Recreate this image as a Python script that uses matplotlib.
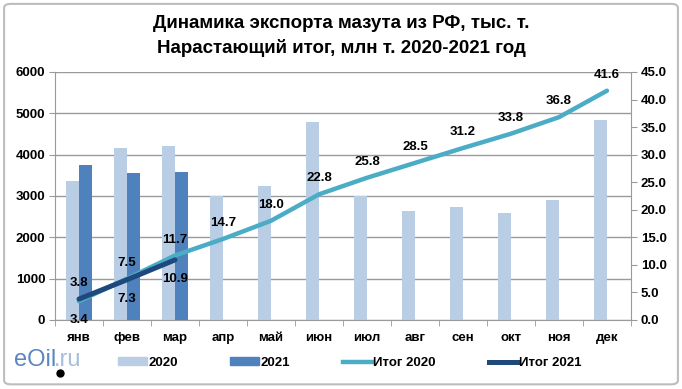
import numpy as np
import matplotlib.pyplot as plt
from matplotlib.patches import Patch, FancyBboxPatch
from matplotlib.lines import Line2D

plt.rcParams['font.family'] = ['Liberation Sans', 'DejaVu Sans']
plt.rcParams['font.weight'] = 'bold'

# ---- data -------------------------------------------------------------
months = ["янв", "фев", "мар", "апр", "май", "июн",
          "июл", "авг", "сен", "окт", "ноя", "дек"]
exp_2020 = [3360, 4160, 4210, 3000, 3250, 4800,
            3000, 2640, 2740, 2600, 2910, 4850]
exp_2021 = [3750, 3550, 3580]
cum_2020 = [3.4, 7.5, 11.7, 14.7, 18.0, 22.8,
            25.8, 28.5, 31.2, 33.8, 36.8, 41.6]
cum_2021 = [3.8, 7.3, 10.9]

C = {
    "b2020": "#B9CDE5",
    "b2021": "#4F81BD",
    "l2020": "#4BACC6",
    "l2021": "#1F497D",
    "grid": "#9A9A9A",
}
FS = 9.5

fig = plt.figure(figsize=(6.82, 3.89), dpi=100)
fig.patches.append(FancyBboxPatch((0.006, 0.012), 0.988, 0.978,
                                  boxstyle="round,pad=0,rounding_size=0.01",
                                  transform=fig.transFigure, fill=False,
                                  edgecolor="#BDBDBD", linewidth=1.5))

ax = fig.add_axes([0.0806, 0.1774, 0.8446, 0.6376])
x = np.arange(len(months))
w = 0.28

ax.bar(x - w / 2, exp_2020, width=w, color=C["b2020"], zorder=2)
ax.bar(x[:len(exp_2021)] + w / 2, exp_2021, width=w, color=C["b2021"], zorder=2)

ax.set_xlim(-0.5, 11.5)
ax.set_ylim(0, 6000)
ax.set_yticks(np.arange(0, 6001, 1000))
ax.yaxis.grid(True, color=C["grid"], linewidth=1)
ax.set_axisbelow(True)
ax.set_xticks(x)
ax.set_xticklabels(months)
ax.set_xticks(np.arange(-0.5, 12, 1), minor=True)
ax.tick_params(axis="x", which="major", length=0, pad=9, labelsize=FS)
ax.tick_params(axis="x", which="minor", length=4, color=C["grid"])
ax.tick_params(axis="y", length=4, color=C["grid"], labelsize=FS, pad=3)
for side in ("top", "right"):
    ax.spines[side].set_visible(False)
for side in ("left", "bottom"):
    ax.spines[side].set_color(C["grid"])

ax2 = ax.twinx()
ax2.plot(x, cum_2020, color=C["l2020"], linewidth=3.2,
         solid_capstyle="round", zorder=3)
ax2.plot(x[:len(cum_2021)], cum_2021, color=C["l2021"], linewidth=3.6,
         solid_capstyle="round", zorder=4)
ax2.set_ylim(0, 45)
ax2.set_yticks(np.arange(0, 46, 5))
ax2.set_yticklabels([f"{v:.1f}" for v in np.arange(0, 46, 5)])
ax2.tick_params(axis="y", length=4, color=C["grid"], labelsize=FS, pad=3)
for side in ("top", "left", "bottom"):
    ax2.spines[side].set_visible(False)
ax2.spines["right"].set_color(C["grid"])

# data labels: 2020 above the line (Jan below), 2021 the other way round
for i, v in enumerate(cum_2020):
    dy = -19 if i == 0 else 16
    ax2.annotate(f"{v:.1f}", (x[i], v), xytext=(0, dy),
                 textcoords="offset pixels",
                 ha="center", va="center", fontsize=FS)
for i, v in enumerate(cum_2021):
    dy = 16 if i == 0 else -19
    ax2.annotate(f"{v:.1f}", (x[i], v), xytext=(0, dy),
                 textcoords="offset pixels",
                 ha="center", va="center", fontsize=FS)

fig.text(0.5, 0.94, "Динамика экспорта мазута из РФ, тыс. т.",
         ha="center", va="center", fontsize=13.5)
fig.text(0.5, 0.877, "Нарастающий итог, млн т. 2020-2021 год",
         ha="center", va="center", fontsize=13.5)

handles = [Patch(color=C["b2020"]), Patch(color=C["b2021"]),
           Line2D([], [], color=C["l2020"], linewidth=3.2),
           Line2D([], [], color=C["l2021"], linewidth=3.6)]
labels = ["2020", "2021", "Итог 2020", "Итог 2021"]
fig.legend(handles, labels, loc="center left", bbox_to_anchor=(0.165, 0.067),
           ncol=4, frameon=False, fontsize=FS, handlelength=2.2,
           handleheight=0.6, handletextpad=0.1, columnspacing=4.0,
           borderaxespad=0)

# logo
t1 = fig.text(0.02, 0.075, "eOil", color="#5A86C2", fontsize=17,
              fontweight="normal", ha="left", va="center")
fig.canvas.draw()
bb = t1.get_window_extent().transformed(fig.transFigure.inverted())
fig.text(bb.x1 - 0.003, 0.075, ".ru", color="#A6BEE0", fontsize=17,
         fontweight="normal", ha="left", va="center")
fig.add_artist(Line2D([bb.x1 + 0.006], [0.04], marker="o", markersize=5,
                      color="black", transform=fig.transFigure))

fig.savefig("out.png", dpi=100)
